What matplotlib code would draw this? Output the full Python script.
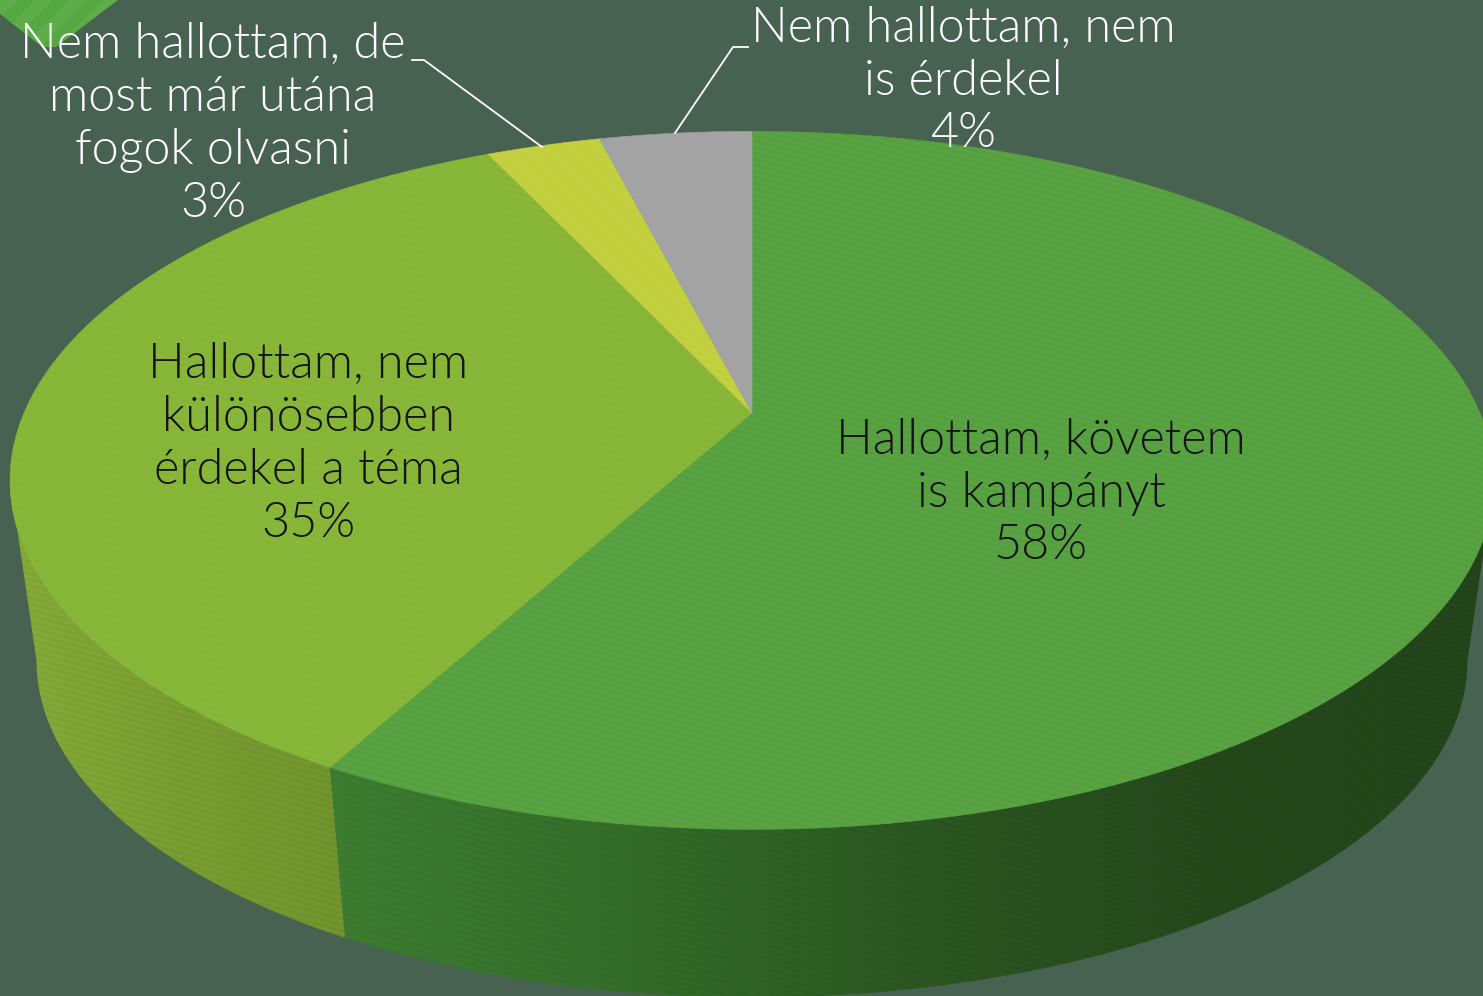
import numpy as np
import matplotlib
matplotlib.use("Agg")
import matplotlib.pyplot as plt
from matplotlib.patches import Polygon

labels = ["Hallottam, követem\nis kampányt", "Hallottam, nem\nkülönösebben\nérdekel a téma",
          "Nem hallottam, de\nmost már utána\nfogok olvasni", "Nem hallottam, nem\nis érdekel"]
values = [58, 35, 3, 4]
top_colors = ["#55a03e", "#86b536", "#c1cf3b", "#a3a3a3"]

plt.rcParams["font.family"] = ["Lato", "DejaVu Sans"]

fig = plt.figure(figsize=(14.83, 9.96), dpi=100, facecolor="#486252")
ax = fig.add_axes([0, 0, 1, 1])
ax.set_xlim(0, 1483)
ax.set_ylim(996, 0)
ax.axis("off")

# perspective of the pie, worked out from the rim in pixels
cx = 752
k = 0.193
def rim(theta, a=728, b=336, y0=413):
    w = 1 + k * np.cos(theta)
    return cx + a * np.sin(theta) / w, y0 - b * np.cos(theta) / w

def rim_low(theta):
    return rim(theta, a=702, b=324, y0=596)

yy, xx = np.mgrid[0:996, 0:1483]

def stripes(clip, slope=0.26, period=6.0, strength=0.05, colour=1.0):
    v = np.sin(2 * np.pi * (yy - slope * xx) / period)
    img = np.zeros((996, 1483, 4))
    img[..., :3] = colour
    img[..., 3] = strength * (v > 0)
    im = ax.imshow(img, extent=(0, 1483, 996, 0), aspect="auto", zorder=clip.get_zorder() + 0.1)
    im.set_clip_path(clip)

def side_gradient(clip, xs, cols):
    rgb = np.array([matplotlib.colors.to_rgb(c) for c in cols])
    img = np.ones((1, 1483, 3))
    for i in range(3):
        img[0, :, i] = np.interp(np.arange(1483), xs, rgb[:, i])
    im = ax.imshow(img, extent=(0, 1483, 996, 0), aspect="auto", zorder=clip.get_zorder() + 0.05)
    im.set_clip_path(clip)

# corner shape top left
corner = Polygon([(0, 14), (36, 42), (44, 47), (56, 47), (118, 0), (0, 0)], closed=True,
                 facecolor="#55a83f", edgecolor="none", zorder=1)
ax.add_patch(corner)
v = np.sin(2 * np.pi * (xx + yy) / 34.0)
img = np.zeros((996, 1483, 4))
img[..., :3] = 1
img[..., 3] = 0.06 * (v > 0)
im = ax.imshow(img, extent=(0, 1483, 996, 0), aspect="auto", zorder=1.1)
im.set_clip_path(corner)

edges = 2 * np.pi * np.cumsum([0] + values) / np.sum(values)

# sides, only the front part of the two big slices shows
right_turn = np.arccos(-k)
left_turn = 2 * np.pi - right_turn
side_xs = [[330, 345, 600, 900, 1200, 1483], [0, 60, 180, 345]]
side_cols = [["#3d7d31", "#3d7d31", "#356f2b", "#2c5822", "#26491c", "#24461a"],
             ["#86ac38", "#83a837", "#7a9e31", "#72952e"]]
for i in [0, 1]:
    t = np.linspace(max(edges[i], right_turn), min(edges[i + 1], left_turn), 300)
    x1, y1 = rim(t)
    x2, y2 = rim_low(t)
    pts = np.column_stack([np.r_[x1, x2[::-1]], np.r_[y1, y2[::-1]]])
    p = Polygon(pts, closed=True, facecolor="none", edgecolor="none", zorder=2)
    ax.add_patch(p)
    side_gradient(p, side_xs[i], side_cols[i])
    stripes(p, strength=0.035, colour=0.0)

# top of the pie
for i in range(len(values)):
    t = np.linspace(edges[i], edges[i + 1], 300)
    x1, y1 = rim(t)
    pts = np.column_stack([np.r_[cx, x1], np.r_[413, y1]])
    p = Polygon(pts, closed=True, facecolor=top_colors[i], edgecolor=top_colors[i], linewidth=0.4, zorder=3)
    ax.add_patch(p)
    if i < 3:
        stripes(p, strength=0.035)

# leader lines
ax.plot([412, 424, 542], [60, 60, 147], color="white", lw=1.3, zorder=5)
ax.plot([748, 733, 675], [47, 47, 133], color="white", lw=1.3, zorder=5)

pct = [str(v) + "%" for v in values]
text_pos = [(1041, 493), (308, 444), (213, 124), (963, 81)]
text_cols = ["#141414", "#141414", "white", "white"]
for i in range(len(values)):
    ax.text(text_pos[i][0], text_pos[i][1], labels[i] + "\n" + pct[i], color=text_cols[i], fontsize=35,
            fontweight=300, ha="center", va="center", linespacing=1.22, zorder=6)

fig.savefig("out.png", dpi=100, facecolor=fig.get_facecolor())
